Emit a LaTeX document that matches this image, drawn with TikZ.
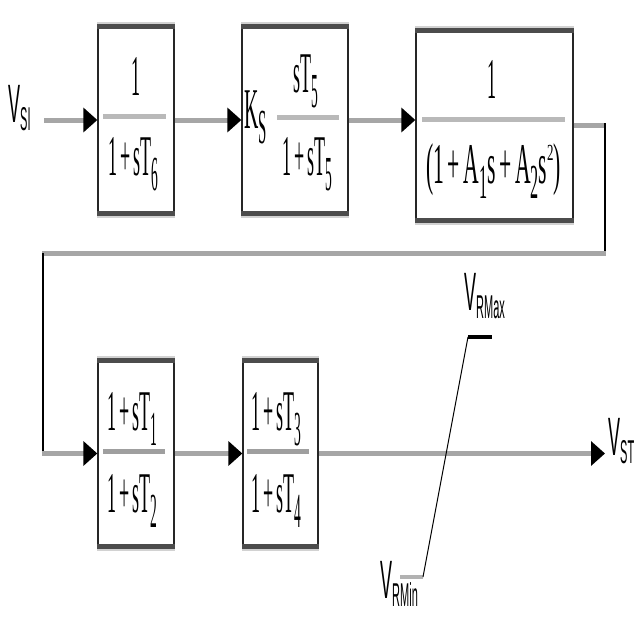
\documentclass[tikz,border=0pt]{standalone}
\usepackage{fontspec}
\setmainfont{Liberation Serif}
\newfontfamily\lsans{Liberation Sans}
\usetikzlibrary{arrows.meta}
\newcommand\tf[2][1]{\scalebox{#1}[3.2]{\fontsize{18}{20}\selectfont #2}}
\newcommand\sbs[1]{\raisebox{-4.7pt}{\scalebox{0.75}[0.85]{#1}}}
\newcommand\sps[1]{\raisebox{7pt}{\scalebox{0.6}[0.4]{#1}}}
\newcommand\lab[1]{\scalebox{1}[3]{\lsans\fontsize{18}{20}\selectfont V\raisebox{-2.9pt}{\fontsize{11}{12}\selectfont #1}}}
\begin{document}
\begin{tikzpicture}[x=1pt,y=-1pt,
  blk/.style={draw=black!85, line width=1.3pt, fill=white, inner sep=0},
  edgebar/.style={line width=5pt, draw=black!70},
  lightbar/.style={line width=3pt, draw=gray!35},
  fbar/.style={line width=5pt, draw=gray!55},
  sig/.style={line width=5pt, draw=gray!70},
  sigarrow/.style={sig, -{Triangle[length=14pt,width=24pt,black]}},
  thinline/.style={line width=1.3pt, draw=black},
  txt/.style={inner sep=0, anchor=base}]
\useasboundingbox (0,0) rectangle (640,640);
% boxes
\node[blk, minimum width=76pt, minimum height=190pt] (b1) at (136,120) {};
\node[blk, minimum width=106pt, minimum height=190pt] (b2) at (295,120) {};
\node[blk, minimum width=157pt, minimum height=193pt] (b3) at (494.5,125.5) {};
\node[blk, minimum width=76pt, minimum height=189pt] (b4) at (136,453.5) {};
\node[blk, minimum width=75pt, minimum height=189pt] (b5) at (280.5,453.5) {};
\foreach \b in {b1,b2,b3,b4,b5}{
  \draw[lightbar] ([yshift=1pt]\b.north west) -- ([yshift=1pt]\b.north east);
  \draw[lightbar] ([yshift=-1pt]\b.south west) -- ([yshift=-1pt]\b.south east);
  \draw[edgebar] ([yshift=-2.5pt]\b.north west) -- ([yshift=-2.5pt]\b.north east);
  \draw[edgebar] ([yshift=2.5pt]\b.south west) -- ([yshift=2.5pt]\b.south east);
}
% fraction bars
\draw[fbar] (103,116) -- (166,116);
\draw[fbar] (277,117) -- (339,117);
\draw[fbar] (422,119) -- (565,119);
\draw[fbar, draw=gray!75] (103,451) -- (165,451);
\draw[fbar, draw=gray!75] (247,451) -- (309,451);
% texts
\node[txt] (n1) at (136,95) {\tf{1}};
\node[txt] (d1) at (133.5,175) {\tf{1\,+\,sT\sbs{6}}};
\node[txt, anchor=base west] (k2) at (244,128) {\tf[1.1]{K\sbs{S}}};
\node[txt] (n2) at (306,92) {\tf{sT\sbs{5}}};
\node[txt] (d2) at (307,175) {\tf{1\,+\,sT\sbs{5}}};
\node[txt] (n3) at (492,98) {\tf{1}};
\node[txt] (d3) at (493.5,183) {\tf[1.2]{(1\,+\,A\sbs{1}s\,+\,A\sbs{2}s\sps{2})}};
\node[txt] (n4) at (132,430) {\tf{1\,+\,sT\sbs{1}}};
\node[txt] (d4) at (132,512) {\tf{1\,+\,sT\sbs{2}}};
\node[txt] (n5) at (276,430) {\tf{1\,+\,sT\sbs{3}}};
\node[txt] (d5) at (276,512) {\tf{1\,+\,sT\sbs{4}}};
% labels
\node[txt, anchor=base west] (vsi) at (8,122) {\lab{SI}};
\node[txt, anchor=base west] (vst) at (608,455) {\lab{ST}};
\node[txt, anchor=base west] (vmax) at (464,310) {\lab{RMax}};
\node[txt, anchor=base west] (vmin) at (380,598) {\lab{RMin}};
% connectors
\coordinate (in) at (44,120);
\draw[sigarrow] (in) -- (b1.west);
\draw[sigarrow] (b1.east) -- (b2.west);
\draw[sigarrow] (b2.east) -- (b2.east -| b3.west);
\coordinate (c1) at (605,125.5);
\coordinate (c2) at (605,253);
\coordinate (c3) at (43,253);
\coordinate (c4) at (43,453.5);
\draw[sig] (b3.east) -- (c1);
\draw[thinline] ([yshift=2.5pt]c1) -- (c2);
\draw[sig] ([xshift=0.65pt]c2) -- ([xshift=-0.65pt]c3);
\draw[thinline] (c3) -- (c4);
\draw[sigarrow] ([xshift=-0.65pt]c4) -- (b4.west);
\draw[sigarrow] (b4.east) -- (b5.west);
\coordinate (out) at (605,453.5);
\draw[sigarrow] (b5.east) -- (out);
% limiter
\coordinate (lmin) at (400,577);
\coordinate (la) at (423,577);
\coordinate (lb) at (468,337);
\coordinate (lmax) at (492,337);
\draw[line width=3.5pt, draw=gray!60] (lmin) -- (la);
\draw[line width=1pt] (la) -- (lb);
\draw[line width=3.5pt, draw=black] (lb) -- (lmax);
\end{tikzpicture}
\end{document}
